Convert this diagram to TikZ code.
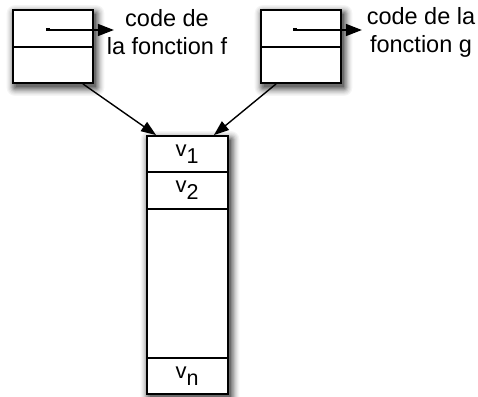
\documentclass[tikz,border=0pt]{standalone}
\usepackage{fontspec}
\setmainfont{Liberation Sans}
\usetikzlibrary{arrows.meta,calc}
\tikzset{
  boxstyle/.style={draw=black, line width=1.8pt, inner sep=0pt},
  cellline/.style={line width=1.5pt},
  ptr/.style={line width=1.4pt, -{Triangle[length=16pt,width=12pt]}},
  link/.style={line width=1.4pt, -{Triangle[length=15pt,width=11pt]}},
  lbl/.style={align=center, font=\fontsize{23.5}{28}\selectfont, inner sep=0pt},
  vlbl/.style={inner sep=0pt, font=\fontsize{22}{22}\selectfont}
}
\newcommand{\vsub}[1]{v\raisebox{-7pt}{\fontsize{21.5}{21.5}\selectfont #1}}
\newcommand{\softshadow}[4]{% x1 y1 x2 y2 (top-left, bottom-right)
  \foreach \rr/\gg in {8/4,7/8,6/13,5/19,4/26,3/34,2/42,1/50,0/58}{%
    \fill[black!\gg, rounded corners=\rr pt] ({#1+2.5-\rr*1.1},{#2+4-\rr*1.1}) rectangle ({#3+2.5+\rr*1.1},{#4+4+\rr*1.1});
  }
  \fill[white] (#1,#2) rectangle (#3,#4);}
\begin{document}
\begin{tikzpicture}[x=1pt,y=-1pt]
\useasboundingbox (0,0) rectangle (478,396);
% shadows
\softshadow{13}{10}{93}{83}
\softshadow{261}{10}{341}{83}
\softshadow{147}{136}{228}{394}
% closure boxes
\node[boxstyle, minimum width=80pt, minimum height=73pt] (f) at (53,46.5) {};
\node[boxstyle, minimum width=80pt, minimum height=73pt] (g) at (301,46.5) {};
\draw[cellline] (f.west |- 0,47) -- (f.east |- 0,47);
\draw[cellline] (g.west |- 0,47) -- (g.east |- 0,47);
% environment
\node[boxstyle, minimum width=81pt, minimum height=258pt] (env) at (187.5,265) {};
\draw[cellline] (env.west |- 0,172) -- (env.east |- 0,172);
\draw[cellline] (env.west |- 0,209) -- (env.east |- 0,209);
\draw[cellline] (env.west |- 0,358) -- (env.east |- 0,358);
\node[vlbl] (v1) at (187,154) {\vsub{1}};
\node[vlbl] (v2) at (187,190) {\vsub{2}};
\node[vlbl] (vn) at (187,376) {\vsub{n}};
% text labels
\node[lbl] (cf) at (167,32) {code de\\la fonction f};
\node[lbl] (cg) at (421,32) {code de la\\fonction g};
% code pointers
\coordinate (fs) at ($(f.west)+(34,-16.5)$);
\coordinate (gs) at ($(g.west)+(33,-16.5)$);
\draw[line width=2.4pt] ($(fs)+(0,-0.9)$) -- ++(4,0);
\draw[line width=2.4pt] ($(gs)+(0,-0.9)$) -- ++(4,0);
\draw[ptr] (fs) -- ($(f.east)+(20,-16.5)$);
\draw[ptr] (gs) -- ($(g.east)+(20,-16.5)$);
% environment pointers
\draw[link] ([xshift=-11pt]f.south east) -- ([xshift=10pt]env.north west);
\draw[link] ([xshift=16pt]g.south west) -- ([xshift=-15pt]env.north east);
\end{tikzpicture}
\end{document}
